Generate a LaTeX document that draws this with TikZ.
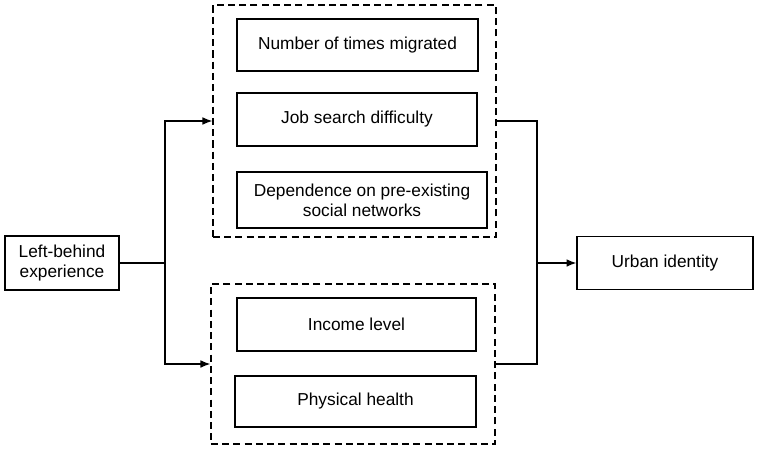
\documentclass[tikz,border=0pt]{standalone}
\usepackage{fontspec}
\setmainfont{Liberation Sans}
\usetikzlibrary{arrows.meta}
\tikzset{box/.style={draw=black, line width=0.9pt, align=center, font=\fontsize{12.3}{14}\selectfont, inner sep=2pt},
	grp/.style={draw=black, line width=0.9pt, dash pattern=on 5pt off 3pt},
	link/.style={draw=black, line width=0.9pt},
	arr/.style={link, -{Latex[length=7pt,width=5.5pt]}}}

\begin{document}
\begin{tikzpicture}[x=0.025cm, y=-0.025cm, line join=miter]
		\useasboundingbox (0,0) rectangle (760,448);
		
		\node[grp, minimum width=7.075cm, minimum height=5.8cm] (grpA) at (354.5,121) {};
		\node[grp, minimum width=7.1cm, minimum height=4cm] (grpB) at (353,364) {};
		
		\node[box, minimum width=2.85cm, minimum height=1.35cm] (left) at (62,263) {Left-behind\\experience};
		\node[box, minimum width=6.025cm, minimum height=1.3cm] (num) at (357.5,45) {Number of times migrated};
		\node[box, minimum width=6cm, minimum height=1.325cm] (job) at (357,119.5) {Job search difficulty};
		\node[box, minimum width=6.25cm, minimum height=1.4cm] (dep) at (362,200) {Dependence on pre-existing\\social networks};
		\node[box, minimum width=5.975cm, minimum height=1.325cm] (inc) at (356.5,324.5) {Income level};
		\node[box, minimum width=6.025cm, minimum height=1.275cm] (phy) at (355.5,401.5) {Physical health};
		\node[box, minimum width=4.4cm, minimum height=1.325cm] (urban) at (665,263) {Urban identity};
		
		\coordinate (split) at (165,263);
		\coordinate (join) at (537,263);
		
		\draw[link] (left.east) -- (split);
		\draw[arr] (split) |- (grpA.west);
		\draw[arr] (split) |- (grpB.west);
		
		\draw[link] (grpA.east) -| (join);
		\draw[link] (grpB.east) -| (join);
		\draw[arr] (join) -- (urban.west);
	\end{tikzpicture}
\end{document}
